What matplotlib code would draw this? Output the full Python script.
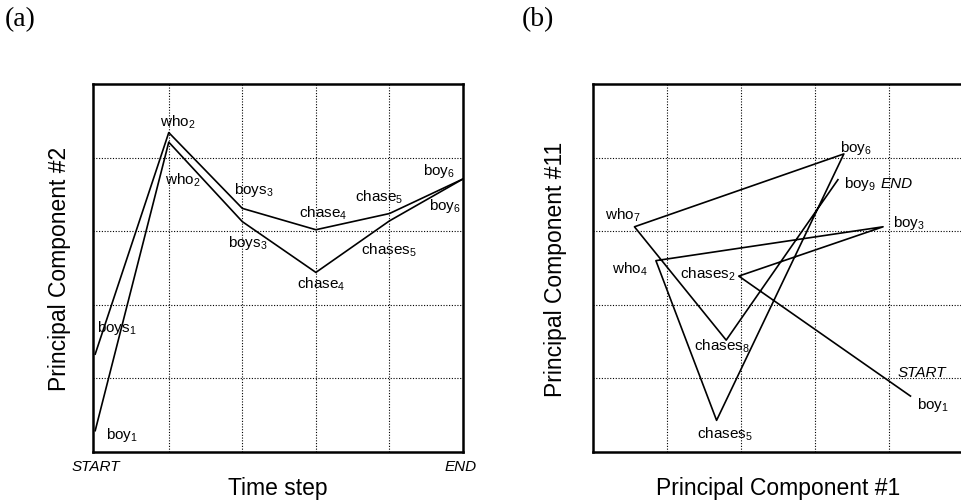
import matplotlib
matplotlib.use("Agg")
import matplotlib.pyplot as plt

plt.rcParams['font.family'] = ['Liberation Sans', 'DejaVu Sans']
plt.rcParams['mathtext.default'] = 'regular'

# ---------- Panel (a) data ----------
steps_a = [0, 1, 2, 3, 4, 5]
pc2_upper = [1.33, 4.34, 3.31, 3.02, 3.24, 3.71]   # boys who boys chase chase boy
pc2_lower = [0.29, 4.21, 3.13, 2.44, 3.14, 3.71]   # boy who boys chase chases boy
labels_a = ['boys$_1$', 'who$_2$', 'boys$_3$', 'chase$_4$', 'chase$_5$', 'boy$_6$',
            'boy$_1$', 'who$_2$', 'boys$_3$', 'chase$_4$', 'chases$_5$', 'boy$_6$']
label_a_x = [0.02, 0.88, 1.89, 2.77, 3.53, 4.46,
             0.14, 0.95, 1.80, 2.74, 3.61, 4.54]
label_a_y = [1.70, 4.49, 3.57, 3.25, 3.47, 3.83,
             0.25, 3.71, 2.86, 2.29, 2.76, 3.35]

# ---------- Panel (b) data ----------
words_b = ['boy$_1$', 'chases$_2$', 'boy$_3$', 'who$_4$', 'chases$_5$',
           'boy$_6$', 'who$_7$', 'chases$_8$', 'boy$_9$']
pc1 = [4.29, 1.97, 3.92, 0.85, 1.67, 3.39, 0.56, 1.80, 3.31]
pc11 = [0.76, 2.39, 3.06, 2.60, 0.43, 4.05, 3.06, 1.52, 3.70]
label_b_x = [4.38, 1.17, 4.05, 0.25, 1.40, 3.34, 0.16, 1.37, 3.39]
label_b_y = [0.65, 2.43, 3.12, 2.50, 0.26, 4.15, 3.23, 1.45, 3.65]

fig = plt.figure(figsize=(9.61, 5.02), dpi=100)

def style(ax):
    ax.set_xticks([1, 2, 3, 4])
    ax.set_yticks([1, 2, 3, 4])
    ax.tick_params(length=0, labelbottom=False, labelleft=False)
    ax.grid(True, linestyle=(0, (1, 1.5)), color='black', linewidth=0.8)
    for s in ax.spines.values():
        s.set_linewidth(1.8)

# Panel (a)
axa = fig.add_axes([93/961, 49/502, 370/961, 368/502])
axa.plot(steps_a, pc2_upper, color='black', linewidth=1.2)
axa.plot(steps_a, pc2_lower, color='black', linewidth=1.2)
axa.set_xlim(-0.03, 5.0)
axa.set_ylim(0, 5)
style(axa)
for t, x, y in zip(labels_a, label_a_x, label_a_y):
    axa.text(x, y, t, fontsize=11, ha='left', va='center')
axa.set_xlabel('Time step', fontsize=16.5, labelpad=17)
axa.set_ylabel('Principal Component #2', fontsize=16.5, labelpad=16)
fig.text(72/961, 1 - 467/502, 'START', fontsize=11, style='italic', ha='left', va='center')
fig.text(477/961, 1 - 467/502, 'END', fontsize=11, style='italic', ha='right', va='center')

# Panel (b)
axb = fig.add_axes([593/961, 49/502, 370/961, 368/502])
axb.plot(pc1, pc11, color='black', linewidth=1.2)
axb.set_xlim(0, 5)
axb.set_ylim(0, 5)
style(axb)
for t, x, y in zip(words_b, label_b_x, label_b_y):
    axb.text(x, y, t, fontsize=11, ha='left', va='center')
axb.text(4.12, 1.09, 'START', fontsize=11, style='italic', ha='left', va='center')
axb.text(3.88, 3.65, 'END', fontsize=11, style='italic', ha='left', va='center')
axb.set_xlabel('Principal Component #1', fontsize=16.5, labelpad=17)
axb.set_ylabel('Principal Component #11', fontsize=16.5, labelpad=19)

# Panel letters
fig.text(5/961, 1 - 20/502, '(a)', fontsize=20, family=['Liberation Serif'], ha='left', va='center')
fig.text(522/961, 1 - 20/502, '(b)', fontsize=20, family=['Liberation Serif'], ha='left', va='center')

fig.savefig('out.png', dpi=100)
